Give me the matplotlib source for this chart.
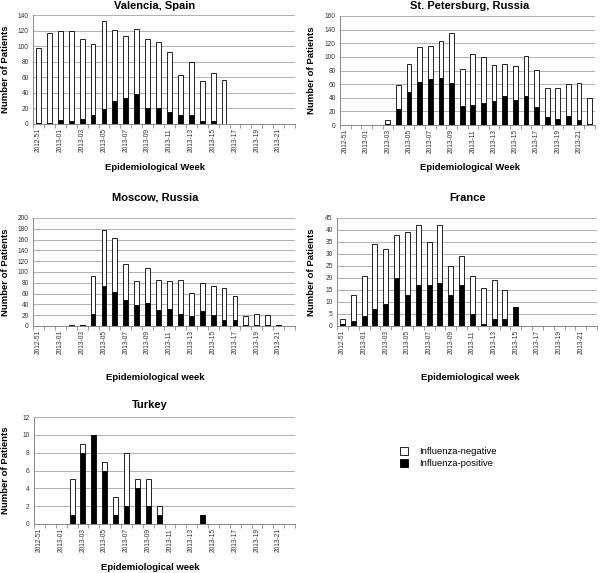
import matplotlib
matplotlib.use("Agg")
import matplotlib.pyplot as plt
import numpy as np
from matplotlib.patches import Patch

plt.rcParams['font.family'] = ['Liberation Sans', 'DejaVu Sans']

weeks = ['2012-51', '2012-52'] + ['2013-%02d' % w for w in range(1, 23)]

# total patients / influenza-positive per week
valencia_total = [97, 117, 119, 119, 109, 103, 132, 121, 113, 122, 109, 105, 92, 63, 80, 55, 65, 57,
                  0, 0, 0, 0, 0, 0]
valencia_pos = [1, 1, 5, 4, 6, 11, 19, 30, 34, 39, 21, 21, 16, 11, 11, 4, 4, 0,
                0, 0, 0, 0, 0, 0]

spb_total = [0, 0, 0, 0, 7, 58, 90, 115, 116, 123, 135, 82, 104, 100, 88, 90, 86, 101, 80, 55, 55, 60, 62, 40]
spb_pos = [0, 0, 0, 0, 2, 23, 49, 63, 67, 69, 61, 28, 30, 33, 35, 42, 36, 43, 27, 12, 9, 13, 8, 2]

moscow_total = [0, 0, 0, 2, 2, 93, 178, 163, 115, 84, 108, 86, 84, 86, 62, 80, 74, 71, 55, 18, 23, 20, 1, 0]
moscow_pos = [0, 0, 0, 2, 2, 23, 75, 63, 49, 38, 43, 29, 31, 22, 19, 27, 21, 11, 11, 2, 2, 2, 1, 0]

france_total = [3, 13, 21, 34, 32, 38, 39, 42, 35, 42, 25, 29, 21, 16, 19, 15, 8, 0, 0, 0, 0, 0, 0, 0]
france_pos = [1, 2, 4, 7, 9, 20, 13, 17, 17, 18, 13, 17, 5, 1, 3, 3, 8, 0, 0, 0, 0, 0, 0, 0]

turkey_total = [0, 0, 0, 5, 9, 10, 7, 3, 8, 5, 5, 2, 0, 0, 0, 1, 0, 0, 0, 0, 0, 0, 0, 0]
turkey_pos = [0, 0, 0, 1, 8, 10, 6, 1, 2, 4, 2, 1, 0, 0, 0, 1, 0, 0, 0, 0, 0, 0, 0, 0]

W, H = 600, 573
fig = plt.figure(figsize=(6, 5.73), dpi=100)


def px(x, y):
    return x / W, 1 - y / H


def draw_panel(rect, total, pos, ymax, ystep, title, xlabel, title_xy, xlabel_xy, ylabel_x):
    left, top, right, bottom = rect
    ax = fig.add_axes([left / W, 1 - bottom / H, (right - left) / W, (bottom - top) / H])
    x = np.arange(len(weeks))
    total = np.array(total)
    pos = np.array(pos)
    neg = total - pos
    ax.bar(x, pos, width=0.45, color='black', edgecolor='black', linewidth=0.6, zorder=3)
    ax.bar(x, neg, bottom=pos, width=0.45, color='white', edgecolor='black', linewidth=0.6, zorder=3)
    ax.set_xlim(-0.5, len(weeks) - 0.5)
    ax.set_ylim(0, ymax)
    ax.set_yticks(np.arange(0, ymax + ystep / 2, ystep))
    ax.yaxis.grid(True, color='#b0b0b0', linewidth=0.7, zorder=0)
    ax.set_xticks(x[::2])
    ax.set_xticklabels(weeks[::2], rotation=90, fontsize=4.8, color='#333333')
    ax.set_xticks(np.arange(-0.5, len(weeks), 1), minor=True)
    ax.tick_params(axis='x', which='major', length=0, pad=3)
    ax.tick_params(axis='x', which='minor', length=3, color='#888888', width=0.6)
    ax.tick_params(axis='y', length=0, labelsize=4.8, labelcolor='#333333', pad=3)
    for s in ['top', 'right']:
        ax.spines[s].set_visible(False)
    for s in ['left', 'bottom']:
        ax.spines[s].set_color('#888888')
        ax.spines[s].set_linewidth(0.7)
    ax.set_axisbelow(True)
    tx, ty = px(*title_xy)
    fig.text(tx, ty, title, ha='center', va='center', fontsize=8, fontweight='bold')
    lx, ly = px(*xlabel_xy)
    fig.text(lx, ly, xlabel, ha='center', va='center', fontsize=6.8, fontweight='bold')
    yx, yy = px(ylabel_x, (top + bottom) / 2)
    fig.text(yx, yy, 'Number of Patients', ha='center', va='center', rotation=90,
             fontsize=6.8, fontweight='bold')
    return ax


draw_panel((33, 15, 295, 124), valencia_total, valencia_pos, 140, 20, 'Valencia, Spain',
           'Epidemiological Week', (155, 6), (155, 168), 6)
draw_panel((340, 16, 595, 125), spb_total, spb_pos, 160, 20, 'St. Petersburg, Russia',
           'Epidemiological Week', (470, 6), (470, 168), 311)
draw_panel((33, 218, 295, 326), moscow_total, moscow_pos, 200, 20, 'Moscow, Russia',
           'Epidemiological week', (155, 198), (155, 377), 6)
draw_panel((337, 218, 597, 326), france_total, france_pos, 45, 5, 'France',
           'Epidemiological week', (468, 198), (470, 377), 312)
draw_panel((34, 417, 295, 524), turkey_total, turkey_pos, 12, 2, 'Turkey',
           'Epidemiological week', (150, 405), (150, 567), 6)

handles = [Patch(facecolor='white', edgecolor='black', linewidth=0.6, label='Influenza-negative'),
           Patch(facecolor='black', edgecolor='black', linewidth=0.6, label='Influenza-positive')]
lx, ly = px(395, 442)
fig.legend(handles=handles, loc='upper left', bbox_to_anchor=(lx, ly), frameon=False,
           fontsize=6.8, handlelength=0.9, handleheight=0.9, handletextpad=1.2,
           labelspacing=0.35, borderpad=0)

fig.savefig('out.png', dpi=100, facecolor='white')
